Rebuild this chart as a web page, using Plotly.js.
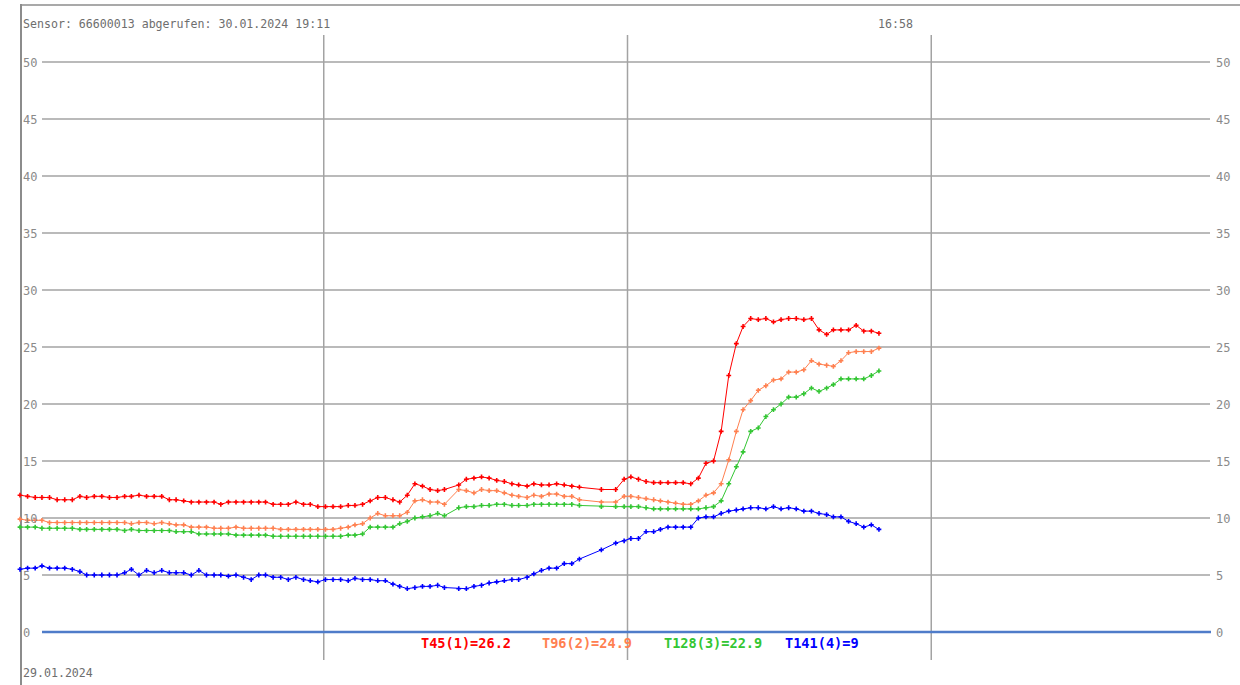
<!DOCTYPE html>
<html>
<head>
<meta charset="utf-8">
<script src="https://cdn.plot.ly/plotly-3.0.1.min.js"></script>
<style>
  html, body { margin: 0; padding: 0; background: #fff; }
  #chart { width: 1240px; height: 685px; }
</style>
</head>
<body>
<div id="chart"></div>
<script>
// ---------------- data ----------------
const day = '2024-01-29';
const times = [
  '00:00','00:09','00:18','00:26','00:35','00:44','00:53','01:02','01:11','01:19',
  '01:28','01:37','01:46','01:55','02:04','02:12','02:21','02:30','02:39','02:48',
  '02:57','03:05','03:14','03:23','03:32','03:41','03:50','03:58','04:07','04:16',
  '04:25','04:34','04:43','04:51','05:00','05:09','05:18','05:27','05:36','05:44',
  '05:53','06:02','06:11','06:20','06:29','06:37','06:46','06:55','07:04','07:13',
  '07:22','07:30','07:39','07:48','07:57','08:06','08:15','08:23',
  '08:40','08:49','08:58','09:07','09:16','09:25','09:34','09:43','09:51','10:01',
  '10:09','10:18','10:27','10:36','10:45','10:54','11:03',
  '11:29','11:46','11:56','12:04','12:13',
  '12:22','12:31','12:39','12:48','12:57','13:06','13:15','13:24','13:33','13:42',
  '13:51','14:00','14:09','14:17','14:26','14:35','14:44','14:53','15:02','15:11',
  '15:20','15:29','15:38','15:47','15:56','16:04','16:13','16:22','16:31','16:40',
  '16:49','16:58'
];
const t45 = [
  12.0,11.9,11.8,11.8,11.8,11.6,11.6,11.6,11.9,11.8,
  11.9,11.9,11.8,11.8,11.9,11.9,12.0,11.9,11.9,11.9,
  11.6,11.6,11.5,11.4,11.4,11.4,11.4,11.2,11.4,11.4,
  11.4,11.4,11.4,11.4,11.2,11.2,11.2,11.4,11.2,11.2,
  11.0,11.0,11.0,11.0,11.1,11.1,11.2,11.5,11.8,11.8,
  11.6,11.4,12.0,13.0,12.8,12.5,12.4,12.5,
  12.9,13.4,13.5,13.6,13.5,13.3,13.2,13.0,12.9,12.8,13.0,12.9,12.9,13.0,12.9,12.8,12.7,
  12.5,12.5,13.4,13.6,13.4,
  13.2,13.1,13.1,13.1,13.1,13.1,13.0,13.5,14.8,15.0,
  17.6,22.5,25.3,26.8,27.5,27.4,27.5,27.2,27.4,27.5,
  27.5,27.4,27.5,26.5,26.1,26.5,26.5,26.5,26.9,26.4,
  26.4,26.2
];
const t96 = [
  9.9,9.8,9.8,9.8,9.6,9.6,9.6,9.6,9.6,9.6,
  9.6,9.6,9.6,9.6,9.6,9.5,9.6,9.6,9.5,9.6,
  9.5,9.4,9.4,9.2,9.2,9.2,9.1,9.1,9.1,9.2,
  9.1,9.1,9.1,9.1,9.1,9.0,9.0,9.0,9.0,9.0,
  9.0,9.0,9.0,9.1,9.2,9.4,9.5,10.0,10.4,10.2,
  10.2,10.2,10.5,11.5,11.6,11.4,11.4,11.2,
  12.5,12.4,12.2,12.5,12.4,12.4,12.2,12.0,11.9,11.8,12.0,11.9,12.1,12.1,11.9,11.9,11.6,
  11.4,11.4,11.9,11.9,11.8,
  11.7,11.6,11.5,11.4,11.3,11.2,11.2,11.5,12.0,12.2,
  13.0,15.1,17.6,19.5,20.3,21.2,21.6,22.1,22.2,22.8,
  22.8,23.0,23.8,23.5,23.4,23.3,23.8,24.5,24.6,24.6,
  24.6,24.9
];
const t128 = [
  9.2,9.2,9.2,9.1,9.1,9.1,9.1,9.1,9.0,9.0,
  9.0,9.0,9.0,9.0,8.9,9.0,8.9,8.9,8.9,8.9,
  8.9,8.8,8.8,8.8,8.6,8.6,8.6,8.6,8.6,8.5,
  8.5,8.5,8.5,8.5,8.4,8.4,8.4,8.4,8.4,8.4,
  8.4,8.4,8.4,8.4,8.5,8.5,8.6,9.2,9.2,9.2,
  9.2,9.5,9.7,10.0,10.1,10.2,10.4,10.2,
  10.9,11.0,11.0,11.1,11.1,11.2,11.2,11.1,11.1,11.1,11.2,11.2,11.2,11.2,11.2,11.2,11.1,
  11.0,11.0,11.0,11.0,11.0,
  10.9,10.8,10.8,10.8,10.8,10.8,10.8,10.8,10.9,11.0,
  11.5,13.0,14.5,15.8,17.6,17.9,18.9,19.5,20.0,20.6,
  20.6,20.9,21.4,21.1,21.4,21.7,22.2,22.2,22.2,22.2,
  22.5,22.9
];
const t141 = [
  5.5,5.6,5.6,5.8,5.6,5.6,5.6,5.5,5.3,5.0,
  5.0,5.0,5.0,5.0,5.2,5.5,5.0,5.4,5.2,5.4,
  5.2,5.2,5.2,5.0,5.4,5.0,5.0,5.0,4.9,5.0,
  4.8,4.6,5.0,5.0,4.8,4.8,4.6,4.8,4.6,4.5,
  4.4,4.6,4.6,4.6,4.5,4.7,4.6,4.6,4.5,4.5,
  4.2,4.0,3.8,3.9,4.0,4.0,4.1,3.9,
  3.8,3.8,4.0,4.1,4.3,4.4,4.5,4.6,4.6,4.8,5.1,5.4,5.6,5.6,6.0,6.0,6.4,
  7.2,7.8,8.0,8.2,8.2,
  8.8,8.8,9.0,9.2,9.2,9.2,9.2,10.0,10.1,10.1,
  10.4,10.6,10.7,10.8,10.9,10.9,10.8,11.0,10.8,10.9,
  10.8,10.6,10.6,10.4,10.3,10.1,10.1,9.7,9.5,9.2,
  9.4,9.0
];
const seriesNames = ['T45(1)', 'T96(2)', 'T128(3)', 'T141(4)'];
const seriesColors = ['#ff0000', '#ff8050', '#33c633', '#0000ff'];
const yTicks = [0, 5, 10, 15, 20, 25, 30, 35, 40, 45, 50];
const xGridHours = ['06:00', '12:00', '18:00'];
const headerText = 'Sensor: 66600013 abgerufen: 30.01.2024 19:11';
const dateText = '29.01.2024';

// ---------------- layout geometry ----------------
const W = 1240, H = 685;
const xPix0 = 20, xPix24 = 1235;          // 00:00 and 24:00 of the day
const yPix0 = 632, yPix50 = 62;           // value 0 and value 50
const pxPerMin = (xPix24 - xPix0) / 1440;
const dayStart = Date.UTC(2024, 0, 29, 0, 0);
const fmt = ms => new Date(ms).toISOString().replace('T', ' ').replace('Z', '');
const xRange = [fmt(dayStart - xPix0 / pxPerMin * 60000), fmt(dayStart + (W - xPix0) / pxPerMin * 60000)];
const pxPerUnit = (yPix0 - yPix50) / 50;
const yRange = [-(H - yPix0) / pxPerUnit, yPix0 / pxPerUnit];
const px = v => v / W;            // paper x
const py = v => 1 - v / H;        // paper y

const x = times.map(t => day + ' ' + t);
const values = [t45, t96, t128, t141];

const traces = values.map((vals, k) => ({
  type: 'scatter',
  mode: 'lines+markers',
  x: x,
  y: vals,
  name: seriesNames[k],
  line: { color: seriesColors[k], width: 1 },
  marker: { color: seriesColors[k], symbol: 'cross', size: 4, line: { width: 0 } },
  cliponaxis: false,
  hoverinfo: 'skip'
}));

const gridColor = '#a3a3a3';
const shapes = [];
// frame lines
shapes.push({ type: 'line', xref: 'paper', yref: 'paper', x0: px(21), x1: px(21), y0: py(4), y1: py(685), line: { color: '#8c8c8c', width: 2 }, layer: 'below' });
shapes.push({ type: 'line', xref: 'paper', yref: 'paper', x0: px(20), x1: px(1240), y0: py(5), y1: py(5), line: { color: '#8c8c8c', width: 1.5 }, layer: 'below' });
// horizontal grid lines
yTicks.filter(v => v > 0).forEach(v => {
  shapes.push({ type: 'line', xref: 'paper', yref: 'y', x0: px(42), x1: px(1210), y0: v, y1: v, line: { color: gridColor, width: 1.5 }, layer: 'below' });
});
// vertical grid lines
xGridHours.forEach(h => {
  shapes.push({ type: 'line', xref: 'x', yref: 'paper', x0: day + ' ' + h, x1: day + ' ' + h, y0: py(660), y1: py(35), line: { color: gridColor, width: 1.5 }, layer: 'below' });
});
// zero line
shapes.push({ type: 'line', xref: 'paper', yref: 'y', x0: px(42), x1: px(1211), y0: 0, y1: 0, line: { color: '#4f7cc9', width: 2.5 }, layer: 'below' });

const labelFont = { family: 'DejaVu Sans Mono, monospace', size: 12, color: '#8a8a8a' };
const annotations = [];
yTicks.forEach(v => {
  annotations.push({ xref: 'paper', yref: 'y', x: px(21), y: v, text: String(v), showarrow: false, xanchor: 'left', yanchor: 'middle', font: labelFont, yshift: -1 });
  annotations.push({ xref: 'paper', yref: 'y', x: px(1214), y: v, text: String(v), showarrow: false, xanchor: 'left', yanchor: 'middle', font: labelFont, yshift: -1 });
});
const textFont = { family: 'DejaVu Sans Mono, monospace', size: 11.6, color: '#6e6e6e' };
annotations.push({ xref: 'paper', yref: 'paper', x: px(21), y: py(24), text: headerText, showarrow: false, xanchor: 'left', yanchor: 'middle', font: textFont });
annotations.push({ xref: 'x', yref: 'paper', x: x[x.length - 1], y: py(24), text: times[times.length - 1], showarrow: false, xanchor: 'left', yanchor: 'middle', font: textFont, xshift: -3 });
annotations.push({ xref: 'paper', yref: 'paper', x: px(21), y: py(673), text: dateText, showarrow: false, xanchor: 'left', yanchor: 'middle', font: textFont });
// legend texts with last values
const legendX = [419, 540, 662, 783];
values.forEach((vals, k) => {
  annotations.push({
    xref: 'paper', yref: 'paper', x: px(legendX[k]), y: py(643),
    text: '<b>' + seriesNames[k] + '=' + vals[vals.length - 1] + '</b>',
    showarrow: false, xanchor: 'left', yanchor: 'middle',
    font: { family: 'DejaVu Sans Mono, monospace', size: 13.6, color: seriesColors[k] }
  });
});

const layout = {
  width: W, height: H,
  margin: { l: 0, r: 0, t: 0, b: 0, pad: 0 },
  paper_bgcolor: '#ffffff', plot_bgcolor: '#ffffff',
  showlegend: false,
  xaxis: { type: 'date', range: xRange, visible: false, fixedrange: true },
  yaxis: { range: yRange, visible: false, fixedrange: true },
  shapes: shapes,
  annotations: annotations
};

Plotly.newPlot('chart', traces, layout, { staticPlot: true, displayModeBar: false });
</script>
</body>
</html>
